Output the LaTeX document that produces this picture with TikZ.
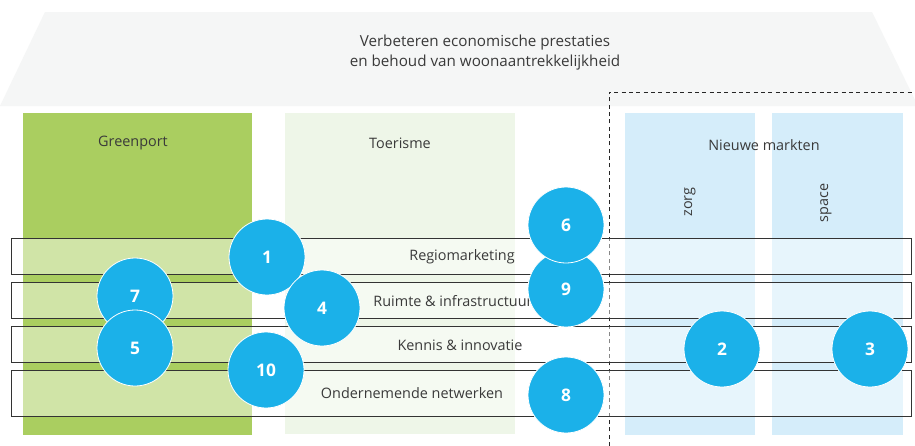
\documentclass[tikz,border=0pt]{standalone}
\usepackage{fontspec}
\setmainfont{Open Sans}
\definecolor{roofgrey}{HTML}{F5F6F6}
\definecolor{greenport}{HTML}{AACE60}
\definecolor{toerisme}{HTML}{EEF6E8}
\definecolor{markt}{HTML}{D5EDFA}
\definecolor{bubbleblue}{HTML}{1BB1E9}
\definecolor{labeltext}{HTML}{3A3A3A}

\begin{document}
\begin{tikzpicture}[x=0.75pt, y=-0.75pt,
    every node/.style={inner sep=0pt, text=labeltext, font=\fontsize{10.8}{13}\selectfont},
    lane/.style={draw=black!80, line width=0.6pt, fill=white, fill opacity=0.45},
    bubble/.style={circle, fill=bubbleblue, draw=white, line width=0.6pt, minimum size=57pt,
        text=white, font=\fontsize{13}{15}\selectfont\bfseries}]
\useasboundingbox (0,0) rectangle (915,446);
\fill[white] (0,0) rectangle (915,446);

% roof
\fill[roofgrey] (0,106) -- (45,12) -- (872,12) -- (915,100) -- (915,106) -- cycle;
\node[align=center, font=\fontsize{11.4}{15}\selectfont] (doel) at (485,53)
    {Verbeteren economische prestaties\\en behoud van woonaantrekkelijkheid};

% pijlers
\fill[greenport] (23,113) rectangle (252,435);
\fill[toerisme] (285,113) rectangle (515,434);
\fill[markt] (625,113) rectangle (755,435);
\fill[markt] (772,113) rectangle (903,435);
\draw[black!85, line width=0.6pt, dash pattern=on 3pt off 2.5pt] (609,446) -- (609,92) -- (915,92);

\node (greenport) at (133,143) {Greenport};
\node (toerisme) at (400,143) {Toerisme};
\node (markten) at (764,145) {Nieuwe markten};
\node[rotate=90] (zorg) at (690,202) {zorg};
\node[rotate=90] (space) at (826,203) {space};

% thema's
\draw[lane] (11,238) rectangle (911,274);
\draw[lane] (11,282) rectangle (911,318);
\draw[lane] (11,326) rectangle (911,362);
\draw[lane] (11,370) rectangle (911,416);

\node (regio) at (462,257) {Regiomarketing};
\node (ruimte) at (453,301) {Ruimte \& infrastructuur};
\node (kennis) at (460,345) {Kennis \& innovatie};
\node (netwerk) at (412,393) {Ondernemende netwerken};

% projecten
\node[bubble] (p7) at (135,296) {7};
\node[bubble] (p5) at (135,348) {5};
\node[bubble] (p1) at (267,257) {1};
\node[bubble] (p4) at (322,308) {4};
\node[bubble] (p10) at (266,370) {10};
\node[bubble] (p9) at (566,289) {9};
\node[bubble] (p6) at (566,225) {6};
\node[bubble] (p8) at (566,395) {8};
\node[bubble] (p2) at (722,349) {2};
\node[bubble] (p3) at (870,349) {3};

\end{tikzpicture}
\end{document}
